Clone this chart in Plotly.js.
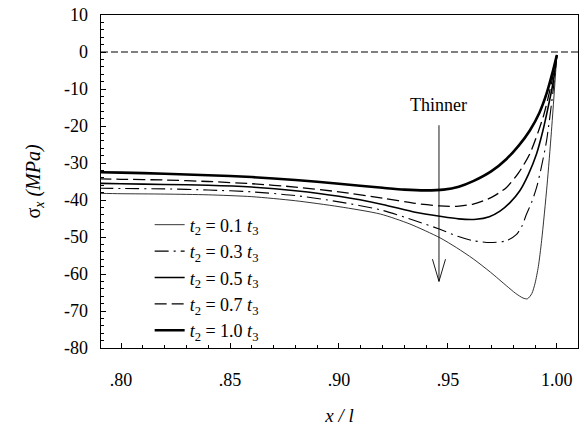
<!DOCTYPE html>
<html>
<head>
<meta charset="utf-8">
<script src="https://cdn.plot.ly/plotly-3.0.1.min.js"></script>
<style>html,body{margin:0;padding:0;background:#fff;}#chart{width:584px;height:427px;}</style>
</head>
<body>
<div id="chart"></div>
<script>
// Series data (x/l vs sigma_x in MPa)
const x_t01 = [0.79, 0.80, 0.82, 0.84, 0.86, 0.88, 0.90, 0.919, 0.9326, 0.9463, 0.954, 0.9616, 0.9695, 0.9769, 0.981, 0.9845, 0.9865, 0.9885, 0.99, 0.9915, 0.993, 0.9955, 0.9975, 1.0];
const y_t01 = [-38.2, -38.3, -38.4, -38.6, -39.1, -40.2, -41.8, -43.8, -46.5, -50.2, -52.9, -55.9, -59.5, -63.2, -65.2, -66.5, -66.7, -65.3, -62.5, -58.0, -51.0, -36.0, -21.5, -0.8];

const x_t03 = [0.79, 0.80, 0.82, 0.84, 0.86, 0.88, 0.90, 0.92, 0.935, 0.9463, 0.9545, 0.9616, 0.9693, 0.9769, 0.9815, 0.984, 0.9861, 0.9885, 0.9907, 0.993, 0.9953, 0.9983, 1.0];
const y_t03 = [-36.8, -36.9, -37.0, -37.3, -37.8, -38.8, -40.5, -42.8, -45.6, -47.9, -49.8, -51.0, -51.5, -51.0, -49.3, -47.0, -43.8, -40.5, -36.6, -30.8, -23.9, -10.3, -0.8];

const x_t05 = [0.79, 0.80, 0.82, 0.84, 0.86, 0.88, 0.90, 0.92, 0.935, 0.9463, 0.955, 0.963, 0.969, 0.9739, 0.9785, 0.983, 0.987, 0.9907, 0.9935, 0.996, 0.9985, 1.0];
const y_t05 = [-35.5, -35.6, -35.8, -36.0, -36.5, -37.5, -39.0, -41.2, -43.3, -44.4, -45.1, -45.2, -44.5, -43.0, -40.7, -37.5, -33.0, -27.5, -21.5, -14.9, -7.5, -0.8];

const x_t07 = [0.79, 0.80, 0.82, 0.84, 0.86, 0.88, 0.90, 0.92, 0.935, 0.9463, 0.954, 0.9616, 0.97, 0.9769, 0.9825, 0.9876, 0.9937, 0.9975, 1.0];
const y_t07 = [-34.3, -34.4, -34.6, -35.0, -35.6, -36.5, -37.8, -39.5, -40.9, -41.6, -41.7, -41.1, -39.3, -36.6, -32.6, -27.5, -17.6, -8.5, -0.8];

const x_t10 = [0.79, 0.80, 0.82, 0.84, 0.86, 0.88, 0.90, 0.92, 0.93, 0.94, 0.948, 0.955, 0.9616, 0.97, 0.9769, 0.9825, 0.9876, 0.992, 0.9953, 0.9978, 1.0];
const y_t10 = [-32.5, -32.6, -32.9, -33.3, -33.8, -34.6, -35.6, -36.7, -37.2, -37.4, -37.2, -36.4, -34.9, -32.2, -28.9, -25.3, -21.2, -16.4, -11.2, -6.0, -0.8];

const seriesNames = ['<i>t</i><sub>2</sub> = 0.1 <i>t</i><sub>3</sub>', '<i>t</i><sub>2</sub> = 0.3 <i>t</i><sub>3</sub>', '<i>t</i><sub>2</sub> = 0.5 <i>t</i><sub>3</sub>', '<i>t</i><sub>2</sub> = 0.7 <i>t</i><sub>3</sub>', '<i>t</i><sub>2</sub> = 1.0 <i>t</i><sub>3</sub>'];

const xTickVals = [0.80, 0.85, 0.90, 0.95, 1.00];
const xTickText = ['.80', '.85', '.90', '.95', '1.00'];
const yTickVals = [10, 0, -10, -20, -30, -40, -50, -60, -70, -80];
const yTickText = ['10', '0', '-10', '-20', '-30', '-40', '-50', '-60', '-70', '-80'];

const zeroLineX = [0.7908, 1.0097];
const zeroLineY = [0, 0];

const arrowX = 0.9459, arrowTopY = -19.8, arrowTipY = -62;
const labelText = 'Thinner', labelY = -14.4;

const styles = [
  {width: 0.8, dash: 'solid'},
  {width: 1.1, dash: '14px,5px,2px,5px'},
  {width: 1.6, dash: 'solid'},
  {width: 1.3, dash: '12px,5px'},
  {width: 2.6, dash: 'solid'}
];
const xs = [x_t01, x_t03, x_t05, x_t07, x_t10];
const ys = [y_t01, y_t03, y_t05, y_t07, y_t10];

const traces = [{
  x: zeroLineX, y: zeroLineY, mode: 'lines', showlegend: false, hoverinfo: 'skip',
  line: {color: '#000', width: 1, dash: '7px,3px'}
}];
for (let i = 0; i < 5; i++) {
  traces.push({
    x: xs[i], y: ys[i], name: seriesNames[i], mode: 'lines',
    line: {color: '#000', width: styles[i].width, dash: styles[i].dash, shape: 'spline', smoothing: 0.7}
  });
}

const serif = '"Liberation Serif", "Times New Roman", serif';
const tickFont = {family: serif, size: 18, color: '#000'};
const layout = {
  width: 584, height: 427,
  margin: {l: 101, r: 6, t: 15, b: 79},
  paper_bgcolor: '#fff', plot_bgcolor: '#fff',
  font: {family: serif, color: '#000', size: 18},
  showlegend: true,
  legend: {x: 0.102, y: 0.425, xanchor: 'left', yanchor: 'top', bgcolor: 'rgba(0,0,0,0)',
           font: {family: serif, size: 18, color: '#000'}, itemwidth: 30, tracegroupgap: 0},
  xaxis: {
    range: [0.7908, 1.0097], showgrid: false, zeroline: false,
    showline: true, linecolor: '#000', linewidth: 1.3, mirror: true,
    ticks: 'inside', ticklen: 5, tickcolor: '#000', tickfont: tickFont,
    tickvals: xTickVals, ticktext: xTickText, ticklabelstandoff: 15,
    minor: {dtick: 0.01, ticks: 'inside', ticklen: 3, tickcolor: '#000'},
    title: {text: '<i>x / l</i>', font: {family: serif, size: 19, color: '#000'}, standoff: 19}
  },
  yaxis: {
    range: [-80, 10], showgrid: false, zeroline: false,
    showline: true, linecolor: '#000', linewidth: 1.3, mirror: true,
    ticks: 'inside', ticklen: 5, tickcolor: '#000', tickfont: tickFont,
    tickvals: yTickVals, ticktext: yTickText, ticklabelstandoff: 8,
    minor: {dtick: 2, ticks: 'inside', ticklen: 3, tickcolor: '#000'},
    title: {text: 'σ<sub><i>x</i></sub> <i>(MPa)</i>', font: {family: serif, size: 20, color: '#000'}, standoff: 18}
  },
  annotations: [
    {x: arrowX, y: labelY, xref: 'x', yref: 'y', text: labelText, showarrow: false,
     font: {family: serif, size: 18, color: '#000'}}
  ],
  shapes: [
    {type: 'line', xref: 'x', yref: 'y', x0: arrowX, x1: arrowX, y0: arrowTopY, y1: arrowTipY,
     line: {color: '#000', width: 0.9}},
    {type: 'path', xref: 'x', yref: 'y',
     path: 'M ' + (arrowX - 0.003) + ' ' + (arrowTipY + 6) + ' L ' + arrowX + ' ' + arrowTipY + ' L ' + (arrowX + 0.003) + ' ' + (arrowTipY + 6),
     line: {color: '#000', width: 0.9}}
  ]
};

Plotly.newPlot('chart', traces, layout, {staticPlot: true, displayModeBar: false});
</script>
</body>
</html>
